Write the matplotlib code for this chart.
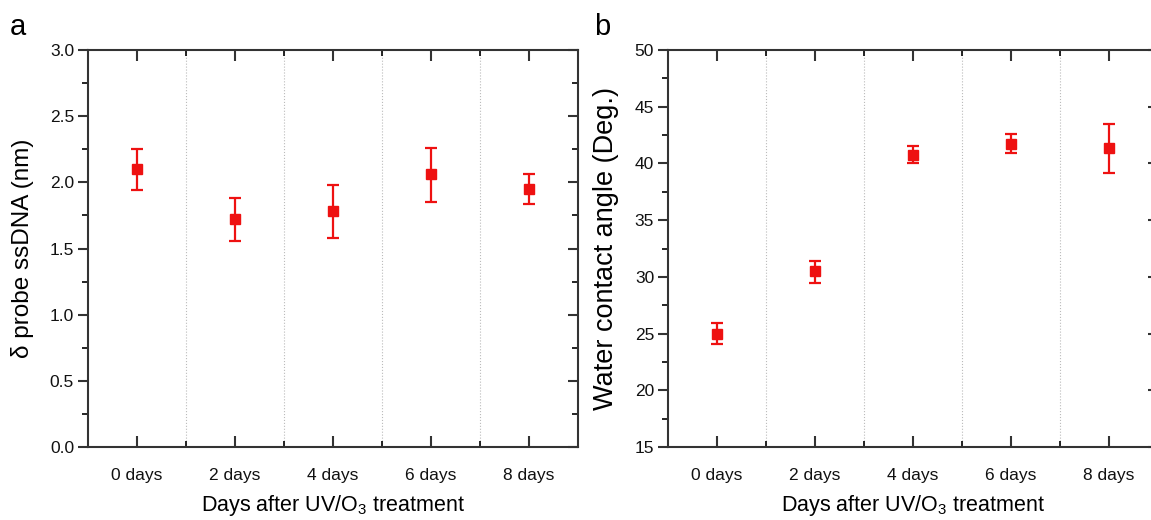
import numpy as np
import matplotlib
matplotlib.use("Agg")
import matplotlib.pyplot as plt
from matplotlib.ticker import MultipleLocator, FixedLocator, FormatStrFormatter

plt.rcParams['font.family'] = ['Liberation Sans', 'DejaVu Sans']
plt.rcParams['mathtext.fontset'] = 'custom'
plt.rcParams['mathtext.rm'] = 'Liberation Sans'
plt.rcParams['mathtext.it'] = 'Liberation Sans:italic'

days = ['0 days', '2 days', '4 days', '6 days', '8 days']

# panel a: delta probe ssDNA (nm)
ssdna = [2.10, 1.72, 1.78, 2.06, 1.95]
ssdna_lo = [1.94, 1.56, 1.58, 1.85, 1.84]
ssdna_hi = [2.25, 1.88, 1.98, 2.26, 2.06]

# panel b: water contact angle (deg)
angle = [25.0, 30.5, 40.7, 41.7, 41.4]
angle_lo = [24.1, 29.5, 40.0, 40.9, 39.2]
angle_hi = [25.9, 31.4, 41.5, 42.6, 43.5]

fig = plt.figure(figsize=(11.51, 5.2), dpi=100)
ax_a = fig.add_axes([88/1151, 1-447/520, 490/1151, 397/520])
ax_b = fig.add_axes([668/1151, 1-447/520, 490/1151, 397/520])

spine_col = '#333333'


def draw_panel(ax, vals, lo, hi, ylim, major, minor, ylabel, ylabel_size):
    x = np.arange(len(days))
    vals = np.array(vals)
    yerr = [vals - np.array(lo), np.array(hi) - vals]
    ax.errorbar(x, vals, yerr=yerr, fmt='s', color='#ee1111', ms=7,
                elinewidth=1.6, capsize=4, capthick=1.6, zorder=3)
    ax.set_xlim(-0.5, len(days) - 0.5)
    ax.set_ylim(*ylim)
    ax.set_xticks(x)
    ax.set_xticklabels(days)
    ax.xaxis.set_minor_locator(FixedLocator(np.arange(0.5, len(days) - 0.5, 1)))
    ax.yaxis.set_major_locator(MultipleLocator(major))
    ax.yaxis.set_minor_locator(MultipleLocator(minor))
    ax.grid(True, which='minor', axis='x', color='#bbbbbb', linestyle=':', linewidth=0.8)
    for s in ax.spines.values():
        s.set_linewidth(1.5)
        s.set_color(spine_col)
    ax.tick_params(axis='both', which='major', labelsize=12.5, width=1.5,
                   length=7, color=spine_col, labelcolor='#111111')
    ax.tick_params(axis='x', which='major', direction='in', top=True, length=8, pad=15)
    ax.tick_params(axis='x', which='minor', direction='in', top=True, length=4, width=1.2)
    ax.tick_params(axis='y', which='major', direction='out', right=True, pad=3)
    ax.tick_params(axis='y', which='minor', direction='out', right=True, length=4, width=1.2)
    ax.tick_params(axis='y', which='both', labelright=False)
    # right-side ticks point inward
    for t in ax.yaxis.get_major_ticks() + ax.yaxis.get_minor_ticks():
        t.tick2line.set_marker(matplotlib.lines.TICKLEFT)
    ax.set_xlabel('Days after UV/O$_3$ treatment', fontsize=15.5, labelpad=7)
    ax.set_ylabel(ylabel, fontsize=ylabel_size, labelpad=11)


draw_panel(ax_a, ssdna, ssdna_lo, ssdna_hi, (0, 3.0), 0.5, 0.25,
           'δ probe ssDNA (nm)', 17.5)
ax_a.yaxis.set_major_formatter(FormatStrFormatter('%.1f'))
draw_panel(ax_b, angle, angle_lo, angle_hi, (15, 50), 5, 2.5,
           'Water contact angle (Deg.)', 19.5)

fig.text(10/1151, 1-27/520, 'a', fontsize=21, va='center')
fig.text(594/1151, 1-27/520, 'b', fontsize=21, va='center')

fig.savefig('out.png', dpi=100, facecolor='white')
